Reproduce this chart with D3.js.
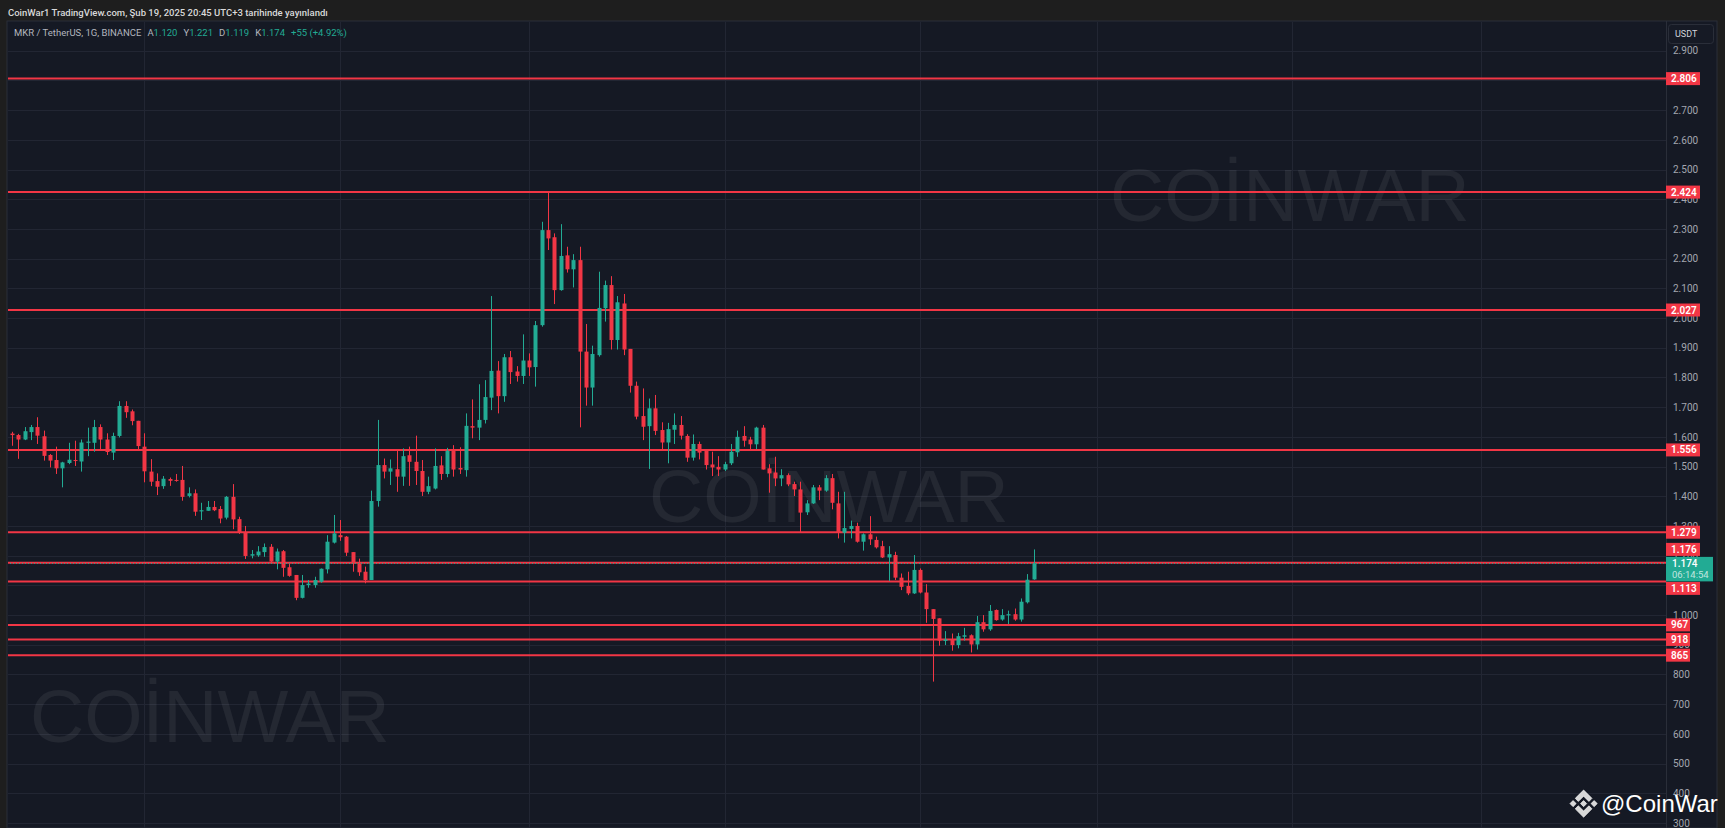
<!DOCTYPE html>
<html>
<head>
<meta charset="utf-8">
<script src="https://cdn.jsdelivr.net/npm/d3@7"></script>
<style>
body { margin: 0; background: #1e1e1e; }
svg { display: block; }
</style>
</head>
<body>
<svg id="chart" width="1725" height="828"></svg>
<script>
// daily candles MKR / USDT, first candle 2024-09-10, last 2025-02-19
var startDay = "2024-09-10";

var open = [1611,1606,1591,1616,1633,1602,1539,1522,1494,1512,1522,1517,1580,1580,1633,1591,1547,1603,1704,1686,
  1654,1567,1483,1451,1434,1458,1455,1455,1401,1410,1349,1351,1364,1357,1328,1398,1323,1277,1200,1201,
  1212,1230,1180,1215,1161,1135,1058,1101,1101,1112,1154,1244,1269,1264,1212,1174,1146,1118,1384,1505,
  1483,1491,1466,1538,1516,1485,1415,1426,1504,1475,1556,1495,1488,1636,1631,1657,1732,1823,1737,1868,
  1820,1805,1857,1835,1976,2296,2272,2094,2211,2164,2195,1887,1766,1875,2033,2111,1926,2049,1896,1772,
  1670,1636,1696,1623,1581,1624,1640,1603,1530,1576,1553,1507,1499,1490,1511,1548,1603,1591,1575,1631,
  1494,1480,1460,1471,1441,1423,1346,1376,1430,1419,1461,1376,1277,1290,1300,1247,1272,1253,1232,1194,
  1202,1126,1098,1073,1152,1076,1020,989,913,916,899,927,932,901,976,952,1017,985,999,1003,
  985,1043,1120];
var high = [1617,1610,1633,1640,1666,1621,1542,1567,1516,1580,1587,1591,1631,1657,1642,1612,1614,1720,1720,1692,
  1654,1612,1525,1477,1468,1463,1475,1502,1430,1423,1378,1384,1384,1367,1401,1441,1331,1300,1219,1232,
  1241,1239,1224,1219,1172,1135,1135,1118,1129,1157,1269,1337,1320,1266,1212,1190,1163,1419,1657,1527,
  1524,1553,1561,1567,1604,1522,1466,1561,1535,1563,1572,1565,1679,1726,1777,1791,2074,1855,1879,1889,
  1838,1945,1881,1990,2324,2422,2285,2316,2240,2215,2240,1980,1907,2156,2126,2141,2074,2081,1896,1786,
  1763,1729,1741,1649,1647,1679,1670,1609,1608,1584,1553,1550,1535,1516,1576,1621,1636,1600,1634,1640,
  1508,1533,1491,1477,1449,1449,1387,1438,1438,1471,1475,1415,1415,1318,1311,1275,1333,1264,1250,1232,
  1213,1140,1146,1202,1157,1104,1020,989,946,938,940,957,935,997,1000,1034,1019,1020,1015,1022,
  1056,1138,1221];
var low = [1570,1526,1589,1589,1576,1520,1497,1475,1430,1508,1502,1483,1535,1550,1555,1539,1522,1598,1664,1639,
  1556,1447,1434,1404,1425,1435,1449,1385,1396,1334,1320,1351,1350,1309,1322,1289,1273,1189,1191,1196,
  1196,1176,1154,1129,1129,1050,1056,1092,1092,1109,1140,1241,1250,1199,1146,1132,1107,1118,1365,1460,
  1438,1415,1435,1435,1438,1401,1407,1423,1455,1464,1466,1475,1466,1595,1589,1645,1690,1679,1718,1778,
  1786,1778,1805,1769,1971,2229,2047,2092,2153,2103,1632,1705,1705,1870,1988,1894,1894,1875,1749,1659,
  1589,1492,1606,1558,1511,1576,1591,1516,1520,1524,1490,1468,1468,1485,1505,1533,1567,1558,1559,1490,
  1412,1434,1434,1434,1401,1277,1337,1374,1387,1415,1356,1258,1244,1258,1244,1217,1236,1224,1192,1115,
  1118,1084,1067,1071,1073,974,776,897,899,880,888,914,874,884,944,947,981,981,970,981,
  978,1039,1119];
var close = [1606,1591,1619,1633,1604,1536,1520,1494,1514,1523,1519,1581,1584,1633,1591,1549,1603,1704,1683,1653,
  1569,1484,1449,1432,1459,1452,1452,1398,1410,1348,1353,1364,1353,1325,1398,1322,1277,1199,1205,1214,
  1229,1180,1214,1159,1132,1058,1101,1106,1118,1156,1247,1275,1262,1210,1174,1144,1118,1384,1505,1483,
  1494,1466,1535,1516,1485,1415,1434,1502,1475,1553,1490,1490,1637,1631,1657,1734,1822,1737,1868,1818,
  1805,1857,1834,1976,2296,2268,2094,2209,2164,2195,1887,1766,1879,2034,2111,1926,2053,1894,1772,1668,
  1634,1696,1620,1581,1626,1640,1604,1530,1576,1547,1505,1497,1490,1508,1550,1600,1587,1575,1631,1490,
  1477,1460,1471,1440,1423,1345,1376,1430,1419,1461,1378,1277,1293,1300,1247,1272,1255,1228,1194,1205,
  1126,1095,1073,1152,1076,1020,987,914,918,899,929,932,901,976,952,1014,983,1000,1003,985,
  1045,1119,1174];

// horizontal levels drawn on the chart
var levels = [2806, 2424, 2027, 1556, 1279, 1176, 1113, 967, 918, 865];
var lastPrice = 1174;
var countdown = "06:14:54";
var priceTicks = [300,400,500,600,700,800,900,1000,1100,1200,1300,1400,1500,1600,1700,1800,1900,
  2000,2100,2200,2300,2400,2500,2600,2700,2800,2900];

var W = 1725, H = 828;
var panelLeft = 7, panelTop = 21, axisX = 1666, panelRight = 1717;
var red = "#f23645", green = "#22ab94";

var start = new Date(startDay + "T00:00:00Z");
var days = d3.utcDay.range(start, d3.utcDay.offset(start, open.length));

var x = d3.scaleUtc().domain([days[0], days[days.length - 1]]).range([12, 1033.7]);
var y = d3.scaleLinear().domain([300, 2900]).range([823, 50.7]);

// turkish style price format: 1.174, 967
var tr = d3.formatLocale({ decimal: ",", thousands: ".", grouping: [3], currency: ["", ""] });
var fmt = tr.format(",d");

var svg = d3.select("#chart");

svg.append("rect").attr("width", W).attr("height", H).attr("fill", "#1e1e1e");

// header line
svg.append("text")
  .attr("x", 8).attr("y", 13).attr("dy", "0.35em")
  .attr("font-family", "Roboto, sans-serif").attr("font-size", "9.5px").attr("font-weight", 500)
  .attr("fill", "#d9d9d9")
  .text("CoinWar1 TradingView.com, Şub 19, 2025 20:45 UTC+3 tarihinde yayınlandı");

// panel
svg.append("rect")
  .attr("x", panelLeft).attr("y", panelTop)
  .attr("width", panelRight - panelLeft).attr("height", H - panelTop)
  .attr("fill", "#151924").attr("stroke", "#2a2e39");

svg.append("defs").append("clipPath").attr("id", "plot")
  .append("rect").attr("x", panelLeft + 1).attr("y", panelTop + 1)
  .attr("width", axisX - panelLeft - 1).attr("height", H - panelTop);

var plot = svg.append("g").attr("clip-path", "url(#plot)");

// grid
plot.append("g").selectAll("line")
  .data(priceTicks)
  .enter().append("line")
  .attr("x1", panelLeft).attr("x2", axisX)
  .attr("y1", function(d) { return Math.round(y(d)) + 0.5; })
  .attr("y2", function(d) { return Math.round(y(d)) + 0.5; })
  .attr("stroke", "#222633");

var months = d3.utcMonth.range(x.invert(panelLeft), x.invert(axisX));
plot.append("g").selectAll("line")
  .data(months)
  .enter().append("line")
  .attr("x1", function(d) { return Math.round(x(d)) + 0.5; })
  .attr("x2", function(d) { return Math.round(x(d)) + 0.5; })
  .attr("y1", panelTop).attr("y2", H)
  .attr("stroke", "#222633");

// watermarks
var marks = [[1110, 221], [649, 522], [30, 742]];
plot.append("g").selectAll("text")
  .data(marks)
  .enter().append("text")
  .attr("x", function(d) { return d[0]; })
  .attr("y", function(d) { return d[1]; })
  .attr("font-family", "'Liberation Sans', Arial, sans-serif")
  .attr("font-size", "75px")
  .attr("fill", "#ffffff").attr("fill-opacity", 0.065)
  .text("COİNWAR");

// level lines
plot.append("g").selectAll("line")
  .data(levels)
  .enter().append("line")
  .attr("x1", panelLeft).attr("x2", axisX)
  .attr("y1", function(d) { return y(d); })
  .attr("y2", function(d) { return y(d); })
  .attr("stroke", red).attr("stroke-width", 2);

// candles
var idx = d3.range(open.length);
var candle = plot.append("g").selectAll("g")
  .data(idx)
  .enter().append("g")
  .attr("fill", function(i) { return close[i] >= open[i] ? green : red; })
  .attr("stroke", function(i) { return close[i] >= open[i] ? green : red; });

candle.append("line")
  .attr("x1", function(i) { return Math.round(x(days[i])) + 0.5; })
  .attr("x2", function(i) { return Math.round(x(days[i])) + 0.5; })
  .attr("y1", function(i) { return y(high[i]); })
  .attr("y2", function(i) { return y(low[i]); })
  .attr("stroke-width", 1);

candle.append("rect")
  .attr("x", function(i) { return Math.round(x(days[i])) - 1.5; })
  .attr("y", function(i) { return y(Math.max(open[i], close[i])); })
  .attr("width", 4)
  .attr("height", function(i) { return Math.max(1, Math.abs(y(open[i]) - y(close[i]))); })
  .attr("stroke", "none");

// last price dotted line
plot.append("line")
  .attr("x1", panelLeft).attr("x2", axisX)
  .attr("y1", y(lastPrice)).attr("y2", y(lastPrice))
  .attr("stroke", green).attr("stroke-width", 1).attr("stroke-dasharray", "1,2");

// price axis
svg.append("line")
  .attr("x1", axisX + 0.5).attr("x2", axisX + 0.5)
  .attr("y1", panelTop).attr("y2", H)
  .attr("stroke", "#2a2e39");

// where each level label ends up (pushed off the last price label)
var curTop = y(lastPrice) - 6.5, curH = 24.5;
function labelY(d) {
  var cy = y(d);
  if (cy + 6.5 > curTop && cy - 6.5 < curTop + curH) {
    cy = d > lastPrice ? curTop - 7.5 : curTop + curH + 7;
  }
  return cy;
}

// ticks fully hidden under a label are not drawn
var shownTicks = priceTicks.filter(function(t) {
  var ty = y(t);
  if (ty > curTop && ty < curTop + curH) return false;
  return !levels.some(function(l) { return Math.abs(labelY(l) - ty) < 4; });
});

var axis = svg.append("g")
  .attr("transform", "translate(" + axisX + ",0)")
  .call(d3.axisRight(y).tickValues(shownTicks).tickFormat(fmt).tickSize(0).tickPadding(7));
axis.select(".domain").remove();
axis.selectAll("text")
  .attr("fill", "#a3a6af")
  .attr("font-family", "Roboto, sans-serif")
  .attr("font-size", "10px");

// level labels
var lab = svg.append("g").selectAll("g")
  .data(levels)
  .enter().append("g")
  .attr("transform", function(d) { return "translate(" + axisX + "," + labelY(d) + ")"; });
lab.append("rect")
  .attr("x", 0).attr("y", -6.5)
  .attr("width", function(d) { return d >= 1000 ? 34 : 24; })
  .attr("height", 13)
  .attr("fill", red);
lab.append("text")
  .attr("x", 5).attr("y", 0).attr("dy", "0.35em")
  .attr("font-family", "Roboto, sans-serif").attr("font-size", "10px").attr("font-weight", 600)
  .attr("fill", "#ffffff")
  .text(function(d) { return fmt(d); });

// current price label
var cur = svg.append("g");
cur.append("rect")
  .attr("x", axisX).attr("y", curTop).attr("width", 47).attr("height", curH)
  .attr("fill", green);
cur.append("text")
  .attr("x", axisX + 6).attr("y", y(lastPrice)).attr("dy", "0.35em")
  .attr("font-family", "Roboto, sans-serif").attr("font-size", "10px").attr("font-weight", 500)
  .attr("fill", "#ffffff").text(fmt(lastPrice));
cur.append("text")
  .attr("x", axisX + 6).attr("y", y(lastPrice) + 11.5).attr("dy", "0.35em")
  .attr("font-family", "Roboto, sans-serif").attr("font-size", "9.5px")
  .attr("fill", "#ffffff").attr("fill-opacity", 0.72).text(countdown);

// currency button
svg.append("rect")
  .attr("x", 1668.5).attr("y", 24.5).attr("width", 45).attr("height", 19).attr("rx", 3)
  .attr("fill", "#161a25").attr("stroke", "#2a2e39");
svg.append("text")
  .attr("x", 1675).attr("y", 34).attr("dy", "0.35em")
  .attr("font-family", "Roboto, sans-serif").attr("font-size", "9px")
  .attr("fill", "#d1d4dc").text("USDT");

// legend
var legend = svg.append("text")
  .attr("x", 14).attr("y", 33).attr("dy", "0.35em")
  .attr("font-family", "Roboto, sans-serif").attr("font-size", "9.5px");
legend.append("tspan").attr("fill", "#b2b5be").text("MKR / TetherUS, 1G, BINANCE");
var ohlc = [["A", open], ["Y", high], ["D", low], ["K", close]];
ohlc.forEach(function(p) {
  legend.append("tspan").attr("dx", 6).attr("fill", "#b2b5be").text(p[0]);
  legend.append("tspan").attr("fill", green).text(fmt(p[1][p[1].length - 1]));
});
var prev = close[close.length - 2];
var chg = close[close.length - 1] - prev;
legend.append("tspan").attr("dx", 6).attr("fill", green)
  .text("+" + chg + " (+" + (chg / prev * 100).toFixed(2) + "%)");

// signature
var logo = svg.append("g").attr("transform", "translate(1570,790) scale(0.215)")
  .attr("fill", "#d8d8d8").attr("stroke", "#ffffff").attr("stroke-width", 3);
logo.append("path").attr("d", "M38.73 53.2L63.3 28.63L87.89 53.22L102.19 38.92L63.3 0L24.42 38.88Z");
logo.append("path").attr("d", "M0 63.31L14.3 49.01L28.6 63.31L14.3 77.61Z");
logo.append("path").attr("d", "M63.31 49L77.61 63.3L63.31 77.6L49.01 63.3Z");
logo.append("path").attr("d", "M98.01 63.31L112.31 49.01L126.61 63.31L112.31 77.61Z");
logo.append("path").attr("d", "M87.89 73.4L63.3 98L38.73 73.42L24.41 87.72L63.3 126.61L102.19 87.71Z");

svg.append("text")
  .attr("x", 1601).attr("y", 812)
  .attr("font-family", "'Liberation Sans', Arial, sans-serif").attr("font-size", "24px")
  .attr("fill", "#ffffff")
  .text("@CoinWar");
</script>
</body>
</html>
